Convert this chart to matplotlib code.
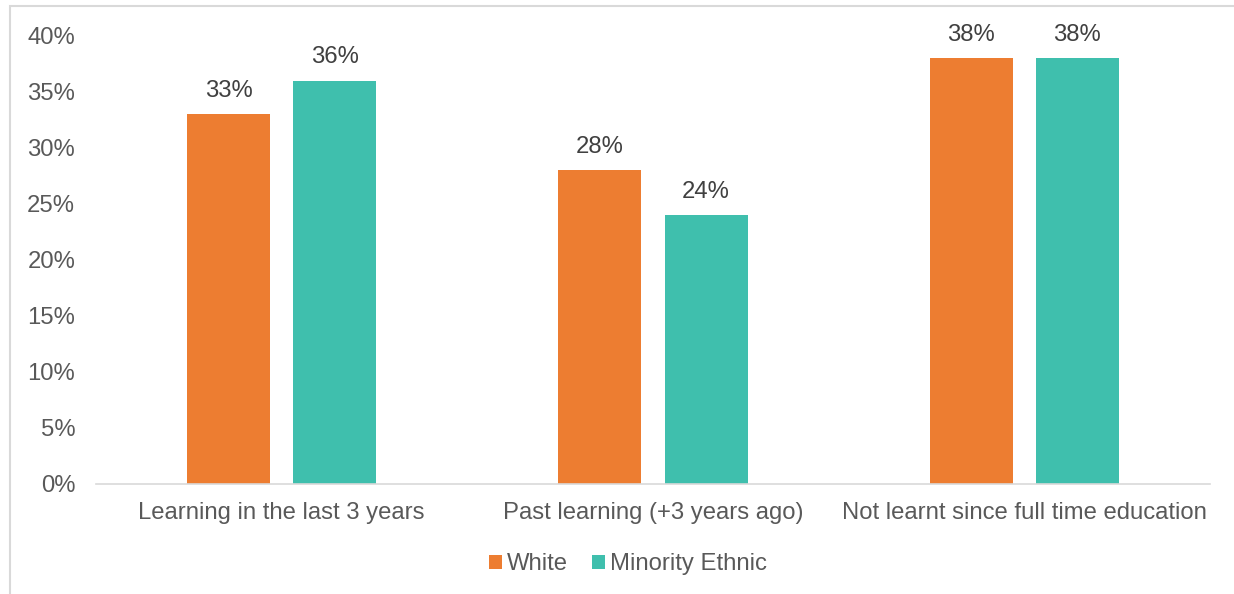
import numpy as np
import matplotlib.pyplot as plt
from matplotlib.patches import Rectangle

categories = ['Learning in the last 3 years', 'Past learning (+3 years ago)',
              'Not learnt since full time education']
white = [33, 28, 38]
minority = [36, 24, 38]
series_names = ['White', 'Minority Ethnic']
colors = ['#ED7D31', '#3FBFAD']

plt.rcParams['font.family'] = ['Liberation Sans', 'DejaVu Sans']
fs = 17.2

fig = plt.figure(figsize=(12.34, 5.94), dpi=100)
ax = fig.add_axes([0.0778, 0.1852, 0.9027, 0.7542])

x = np.arange(len(categories))
w = 0.2235
off = 0.143
for vals, name, c, d in zip([white, minority], series_names, colors, [-off, off]):
    bars = ax.bar(x + d, vals, w, color=c, label=name)
    for b, v in zip(bars, vals):
        ax.annotate(f'{v}%', (b.get_x() + b.get_width() / 2, v),
                    xytext=(0, 9), textcoords='offset points',
                    ha='center', va='bottom', fontsize=fs, color='#404040')

ax.set_xlim(-0.5, 2.5)
ax.set_ylim(0, 40)
ax.set_yticks(np.arange(0, 41, 5))
ax.set_yticklabels([f'{t}%' for t in range(0, 41, 5)])
ax.set_xticks(x)
ax.set_xticklabels(categories)
ax.tick_params(axis='both', length=0, labelsize=fs, labelcolor='#595959')
ax.tick_params(axis='y', pad=15)
ax.tick_params(axis='x', pad=13)
for s in ['top', 'right', 'left']:
    ax.spines[s].set_visible(False)
ax.spines['bottom'].set_color('#D9D9D9')
ax.spines['bottom'].set_linewidth(1.2)

fig.legend(loc='center', bbox_to_anchor=(0.509, 0.05), ncol=2, frameon=False,
           fontsize=fs, handlelength=0.55, handleheight=0.55, handletextpad=0.2,
           columnspacing=1.0, labelcolor='#595959')

# chart frame (cropped on right and bottom)
fig.patches.append(Rectangle((10 / 1234, -0.1), 1.2, 1.1 - 6 / 594,
                             transform=fig.transFigure, fill=False,
                             edgecolor='#D9D9D9', linewidth=1.5))

fig.savefig('out.png', dpi=100)
